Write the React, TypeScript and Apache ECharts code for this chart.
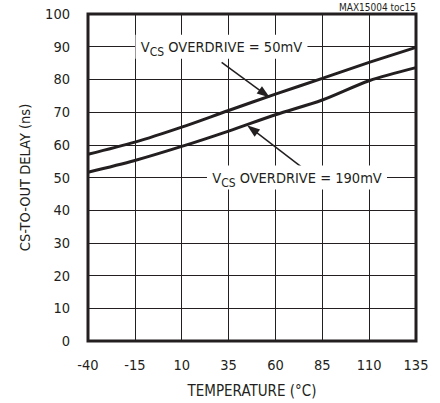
import React, { useEffect, useRef } from "react";
import * as echarts from "echarts";

const temps = [-40, -15, 10, 35, 60, 85, 110, 135];
const delay50mV = [57.1, 60.8, 65.4, 70.5, 75.5, 80.3, 85.2, 89.8];
const delay190mV = [51.6, 55.2, 59.5, 64.2, 69.2, 73.7, 79.6, 83.6];
const xTicks = { min: -40, max: 135, step: 25 };
const yTicks = { min: 0, max: 100, step: 10 };

const label50 = { temp: 31.2, delay: 90 };
const label190 = { temp: 71.5, delay: 50 };
const arrow50 = { from: [31.3, 85.2], to: [54.2, 75.6] };
const arrow190 = { from: [74.0, 53.2], to: [47.6, 64.8] };

const FONT = '"DejaVu Sans Condensed", "Liberation Sans Narrow", "Roboto", sans-serif';
const INK = "#231f20";

export default function App() {
  const ref = useRef<HTMLDivElement>(null);
  useEffect(() => {
    if (!ref.current) return;
    const chart = echarts.init(ref.current, undefined, { renderer: "svg" });
    const rich = {
      v: { fontSize: 14.5, fontFamily: FONT, color: INK, lineHeight: 22 },
      s: { fontSize: 12, fontFamily: FONT, color: INK, lineHeight: 13, verticalAlign: "bottom" },
    };
    const annot = (coord: number[], text: string, w: number) => ({
      coord,
      symbol: "rect",
      symbolSize: [w, 24],
      itemStyle: { color: "#fff" },
      label: {
        show: true,
        position: "inside",
        formatter: "{v|V}{s|CS}{v| OVERDRIVE = " + text + "}",
        rich,
      },
    });
    const arrow = (a: { from: number[]; to: number[] }) => [
      { coord: a.from, symbol: "none" },
      { coord: a.to, symbol: "triangle", symbolSize: [9, 13] },
    ];
    chart.setOption({
      animation: false,
      textStyle: { fontFamily: FONT, color: INK },
      grid: {
        left: 88,
        right: 24,
        top: 14,
        bottom: 62,
        show: true,
        borderColor: INK,
        borderWidth: 3,
        backgroundColor: "transparent",
      },
      graphic: [
        {
          type: "text",
          right: 24,
          top: 2,
          style: { text: "MAX15004 toc15", font: "10px " + FONT, fill: INK },
        },
      ],
      xAxis: {
        type: "value",
        min: xTicks.min,
        max: xTicks.max,
        interval: xTicks.step,
        name: "TEMPERATURE (°C)",
        nameLocation: "middle",
        nameGap: 42,
        nameTextStyle: { fontSize: 15, fontFamily: FONT, color: INK },
        axisLine: { show: false },
        axisTick: { show: false },
        axisLabel: { fontSize: 14.5, fontFamily: FONT, color: INK, margin: 16 },
        splitLine: { show: true, lineStyle: { color: INK, width: 1 } },
      },
      yAxis: {
        type: "value",
        min: yTicks.min,
        max: yTicks.max,
        interval: yTicks.step,
        name: "CS-TO-OUT DELAY (ns)",
        nameLocation: "middle",
        nameGap: 56,
        nameTextStyle: { fontSize: 14.5, fontFamily: FONT, color: INK },
        axisLine: { show: false },
        axisTick: { show: false },
        axisLabel: { fontSize: 14.5, fontFamily: FONT, color: INK, margin: 18 },
        splitLine: { show: true, lineStyle: { color: INK, width: 1 } },
      },
      series: [
        {
          name: "VCS OVERDRIVE = 50mV",
          type: "line",
          data: temps.map((t, i) => [t, delay50mV[i]]),
          smooth: 0.3,
          showSymbol: false,
          silent: true,
          lineStyle: { color: INK, width: 3 },
          markLine: {
            silent: true,
            label: { show: false },
            lineStyle: { color: INK, width: 1.5, type: "solid" },
            data: [arrow(arrow50)],
          },
          markPoint: {
            silent: true,
            data: [annot([label50.temp, label50.delay], "50mV", 172)],
          },
        },
        {
          name: "VCS OVERDRIVE = 190mV",
          type: "line",
          data: temps.map((t, i) => [t, delay190mV[i]]),
          smooth: 0.3,
          showSymbol: false,
          silent: true,
          lineStyle: { color: INK, width: 3 },
          markLine: {
            silent: true,
            label: { show: false },
            lineStyle: { color: INK, width: 1.5, type: "solid" },
            data: [arrow(arrow190)],
          },
          markPoint: {
            silent: true,
            data: [annot([label190.temp, label190.delay], "190mV", 180)],
          },
        },
      ],
    });
    return () => chart.dispose();
  }, []);
  return (
    <div
      ref={ref}
      style={{ position: "fixed", left: 0, top: 0, width: 440, height: 403, background: "#fff" }}
    />
  );
}
